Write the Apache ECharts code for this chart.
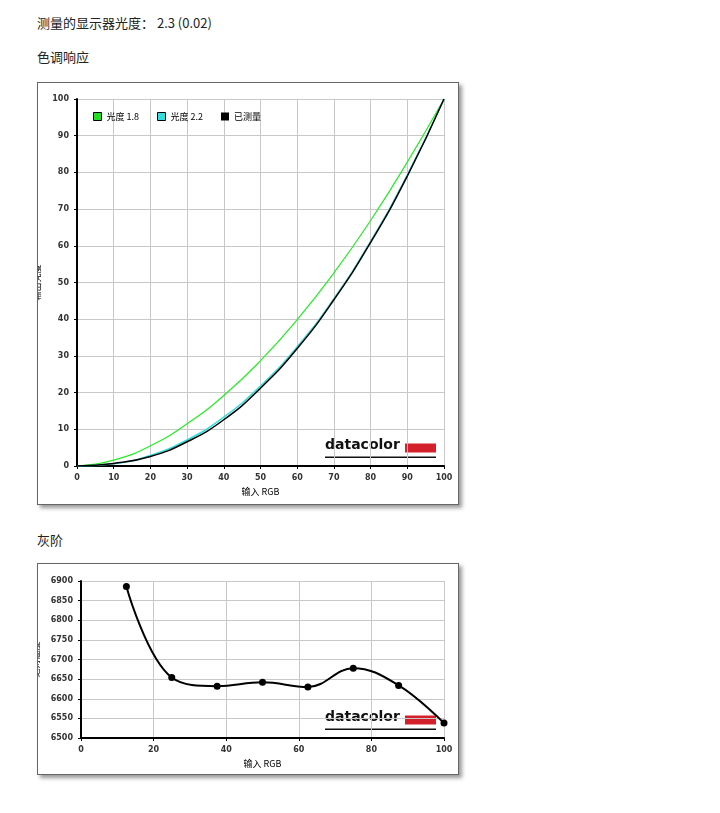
<!DOCTYPE html>
<html>
<head>
<meta charset="utf-8">
<script src="https://cdn.jsdelivr.net/npm/echarts@6/dist/echarts.min.js"></script>
<style>
body{margin:0;background:#fff;font-family:"Noto Sans CJK SC",sans-serif;color:#222;}
.t{position:absolute;font-size:13px;}
.box{position:absolute;left:37px;width:420px;border:1px solid #666;box-shadow:3px 3px 4px #999;background:#fff;}
</style>
</head>
<body>
<div class="t" style="left:37px;top:13px">测量的显示器光度： 2.3 (0.02)</div>
<div class="t" style="left:37px;top:47px">色调响应</div>
<div class="t" style="left:37px;top:530px">灰阶</div>
<div class="box" id="c1" style="top:82px;height:421px"></div>
<div class="box" id="c2" style="top:563px;height:210px"></div>
<script>
const xIn = [0, 10, 20, 30, 40, 50, 60, 70, 80, 90, 100]
const gamma18 = [0, 1.6, 5.5, 11.5, 19.2, 28.7, 39.9, 52.6, 66.9, 82.8, 100]
const gamma22 = [0, 0.6, 2.9, 7.1, 13.3, 21.8, 32.5, 45.6, 61.2, 79.3, 100]
const measured = [0, 0.7, 2.6, 6.6, 12.6, 21.2, 32.0, 45.3, 60.9, 79.0, 100]
const grayX = [12.5, 25, 37.5, 50, 62.5, 75, 87.5, 100]
const grayK = [6886, 6654, 6632, 6642, 6630, 6678, 6634, 6538]

const font = 'DejaVu Sans'
const axisCommon = {
  axisLine: {lineStyle: {color: '#000', width: 2}},
  axisTick: {length: 3, lineStyle: {color: '#000'}},
  axisLabel: {fontSize: 8, color: '#333', fontFamily: font, fontWeight: 'bold', formatter: v => String(v)},
  splitLine: {show: true, lineStyle: {color: '#c8c8c8'}},
  nameLocation: 'middle',
  nameTextStyle: {fontSize: 9, color: '#000', fontFamily: 'Noto Sans CJK SC'}
}
const logo = (right, bottom) => [{
  type: 'group', right: right, bottom: bottom,
  children: [
    {type: 'text', left: 0, top: 0, style: {text: 'datacolor', font: 'bold 14px DejaVu Sans', fill: '#111'}},
    {type: 'rect', shape: {x: 80, y: 5, width: 31, height: 9}, style: {fill: '#d4202b'}},
    {type: 'rect', shape: {x: 0, y: 18, width: 111, height: 1.5}, style: {fill: '#111'}}
  ]
}]

const toPairs = (xs, ys) => xs.map((x, i) => [x, ys[i]])

const c1 = echarts.init(document.getElementById('c1'))
c1.setOption({
  animation: false,
  grid: {left: 39, right: 14, top: 16, bottom: 38, outerBoundsMode: 'none', containLabel: false},
  legend: {
    left: 50, top: 24, itemWidth: 8, itemHeight: 8, itemGap: 18, icon: 'rect',
    textStyle: {fontSize: 9, fontFamily: 'Noto Sans CJK SC', color: '#000'},
    data: [
      {name: '光度 1.8', itemStyle: {color: '#22dd22', borderColor: '#000', borderWidth: 1}},
      {name: '光度 2.2', itemStyle: {color: '#33dddd', borderColor: '#000', borderWidth: 1}},
      {name: '已测量', itemStyle: {color: '#000'}}
    ]
  },
  xAxis: Object.assign({type: 'value', min: 0, max: 100, interval: 10, name: '输入 RGB', nameGap: 16}, axisCommon),
  yAxis: Object.assign({type: 'value', min: 0, max: 100, interval: 10, name: '输出亮度', nameGap: 24}, axisCommon),
  series: [
    {name: '光度 1.8', type: 'line', smooth: true, symbol: 'none', data: toPairs(xIn, gamma18), lineStyle: {color: '#22ee22', width: 1.2}, itemStyle: {color: '#22dd22'}},
    {name: '光度 2.2', type: 'line', smooth: true, symbol: 'none', data: toPairs(xIn, gamma22), lineStyle: {color: '#33dddd', width: 1.5}, itemStyle: {color: '#33dddd'}},
    {name: '已测量', type: 'line', smooth: true, symbol: 'none', data: toPairs(xIn, measured), lineStyle: {color: '#000', width: 1.5}, itemStyle: {color: '#000'}}
  ],
  graphic: logo(22, 46)
})

const c2 = echarts.init(document.getElementById('c2'))
c2.setOption({
  animation: false,
  grid: {left: 43, right: 14, top: 17, bottom: 36, outerBoundsMode: 'none', containLabel: false},
  xAxis: Object.assign({type: 'value', min: 0, max: 100, interval: 20, name: '输入 RGB', nameGap: 16}, axisCommon),
  yAxis: Object.assign({type: 'value', min: 6500, max: 6900, interval: 50, name: '绝对温度', nameGap: 32}, axisCommon),
  series: [
    {type: 'line', smooth: 0.4, data: toPairs(grayX, grayK), symbol: 'circle', symbolSize: 7,
      lineStyle: {color: '#000', width: 2}, itemStyle: {color: '#000'}}
  ],
  graphic: logo(22, 44)
})
</script>
</body>
</html>
